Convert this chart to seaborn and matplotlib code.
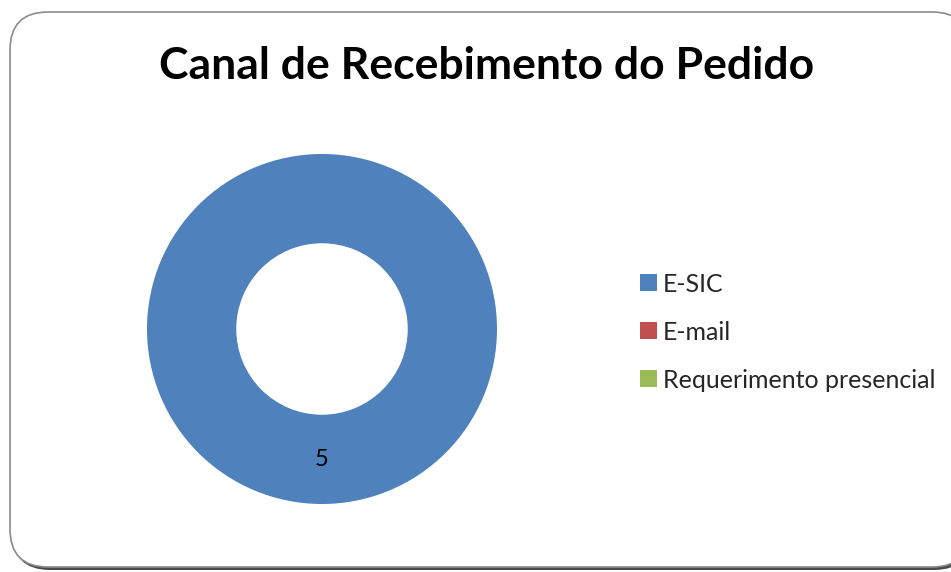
import matplotlib
matplotlib.use("Agg")
import matplotlib.pyplot as plt
from matplotlib.patches import FancyBboxPatch, Patch
import seaborn as sns

# Data
canais = ["E-SIC", "E-mail", "Requerimento presencial"]
pedidos = [5, 0, 0]
cores = ["#4F81BD", "#C0504D", "#9BBB59"]

sns.set_theme(style="white")
plt.rcParams["font.family"] = ["Lato", "DejaVu Sans"]

fig = plt.figure(figsize=(9.51, 5.72), dpi=100)
fig.patch.set_facecolor("white")

# Rounded chart frame with a soft shadow (right edge runs off the image)
shadow = FancyBboxPatch(
    (12 / 951, 2 / 572), 960 / 951, 557 / 572,
    boxstyle="round,pad=0,rounding_size=0.04",
    transform=fig.transFigure, facecolor="#4a4a4a", edgecolor="none",
    mutation_aspect=951 / 572, zorder=0,
)
frame = FancyBboxPatch(
    (10 / 951, 5 / 572), 960 / 951, 555 / 572,
    boxstyle="round,pad=0,rounding_size=0.04",
    transform=fig.transFigure, facecolor="white", edgecolor="#8c8c8c",
    linewidth=1.2, mutation_aspect=951 / 572, zorder=1,
)
fig.patches.extend([shadow, frame])

cx, cy, r = 322, 329, 175
ax = fig.add_axes([(cx - r) / 951, (572 - cy - r) / 572, 2 * r / 951, 2 * r / 572])
ax.set_zorder(2)


def rotulo(pct):
    valor = round(pct * sum(pedidos) / 100)
    return f"{valor}" if valor > 0 else ""


wedges, texts, autotexts = ax.pie(
    pedidos,
    colors=cores,
    startangle=90,
    counterclock=False,
    radius=1,
    autopct=rotulo,
    pctdistance=0.746,
    wedgeprops=dict(width=0.51, edgecolor="none"),
    textprops=dict(fontsize=17, color="black"),
)
ax.set_xlim(-1, 1)
ax.set_ylim(-1, 1)
ax.set_aspect("equal")
ax.axis("off")

fig.text(487 / 951, 1 - 66 / 572, "Canal de Recebimento do Pedido",
         ha="center", va="center", fontsize=32, fontweight="bold",
         color="black", zorder=3)

handles = [Patch(facecolor=c, edgecolor="none") for c in cores]
leg = fig.legend(
    handles, canais,
    loc="center left",
    bbox_to_anchor=(617 / 951, 1 - 332 / 572),
    frameon=False,
    fontsize=18,
    handlelength=0.68,
    handleheight=0.68,
    handletextpad=0.25,
    labelspacing=1.0,
)
leg.set_zorder(3)

plt.savefig("out.png", dpi=100, facecolor="white")
